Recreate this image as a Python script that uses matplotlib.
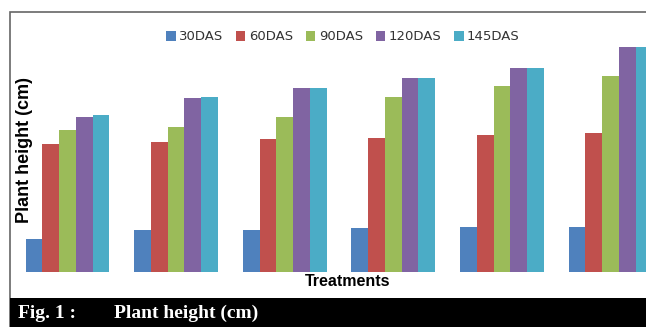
import numpy as np
import matplotlib
matplotlib.use("Agg")
import matplotlib.pyplot as plt
from matplotlib.patches import Rectangle

# values (no scale shown, units are arbitrary)
treatments = ["T1", "T2", "T3", "T4", "T5", "T6"]
series_names = ["30DAS", "60DAS", "90DAS", "120DAS", "145DAS"]
das30 = [33, 42, 42, 44, 45, 45]
das60 = [128, 130, 133, 134, 137, 139]
das90 = [142, 145, 155, 175, 186, 196]
das120 = [155, 174, 184, 194, 204, 225]
das145 = [157, 175, 184, 194, 204, 225]
colors = ["#4F81BD", "#C0504D", "#9BBB59", "#8064A2", "#4BACC6"]

W, H = 646, 327
fig = plt.figure(figsize=(W / 100, H / 100), dpi=100)

# outer gray frame and black caption band
fig.patches.append(Rectangle((10 / W, 0), 1, (H - 12) / H, transform=fig.transFigure,
                             facecolor="white", edgecolor="#666666", linewidth=1.2, zorder=0))
fig.patches.append(Rectangle((10 / W, 0), 1, (H - 298) / H, transform=fig.transFigure,
                             facecolor="black", edgecolor="none", zorder=1))

spacing = 108.6
ax = fig.add_axes([0, (H - 272) / H, 1, 260 / H])
ax.set_zorder(3)
ax.set_xlim(-67.5 / spacing, (W - 67.5) / spacing)
ax.set_ylim(0, 260)
ax.axis("off")

x = np.arange(len(treatments))
bw = 0.77 / 5
all_series = [das30, das60, das90, das120, das145]
for i, (vals, name) in enumerate(zip(all_series, series_names)):
    ax.bar(x + (i - 2) * bw, vals, width=bw, color=colors[i], label=name, linewidth=0)

leg = fig.legend(loc="center", bbox_to_anchor=(343 / W, 1 - 37 / H), ncol=5, frameon=False,
                 handlelength=0.7, handleheight=0.7, handletextpad=0.25, columnspacing=1.0,
                 prop={"family": ["DejaVu Sans"], "size": 9.5})
for t in leg.get_texts():
    t.set_color("#333333")

fig.text(348 / W, 1 - 281 / H, "Treatments", ha="center", va="center", fontsize=11.5,
         fontweight="bold", family=["Liberation Sans", "DejaVu Sans"])
fig.text(25 / W, 1 - 150 / H, "Plant height (cm)", ha="center", va="center", rotation=90,
         fontsize=13, fontweight="bold", family=["Liberation Sans", "DejaVu Sans"])

fig.text(18 / W, 1 - 313 / H, "Fig. 1 :", ha="left", va="center", color="white",
         fontsize=14, fontweight="bold", family=["Liberation Serif", "DejaVu Serif"])
fig.text(114 / W, 1 - 313 / H, "Plant height (cm)", ha="left", va="center", color="white",
         fontsize=14, fontweight="bold", family=["Liberation Serif", "DejaVu Serif"])

fig.savefig("out.png", dpi=100)
